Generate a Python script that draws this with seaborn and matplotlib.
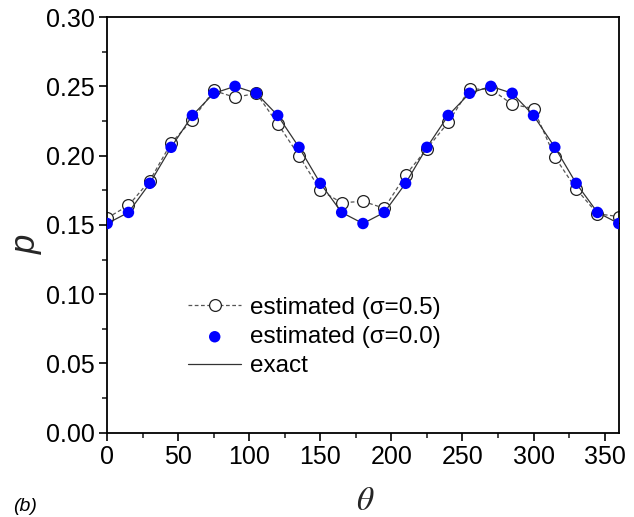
import matplotlib
matplotlib.use("Agg")
import matplotlib.pyplot as plt
from matplotlib.ticker import MultipleLocator
import seaborn as sns
import pandas as pd

theta = [0, 15, 30, 45, 60, 75, 90, 105, 120, 135, 150, 165, 180,
         195, 210, 225, 240, 255, 270, 285, 300, 315, 330, 345, 360]
p_exact = [0.151, 0.159, 0.180, 0.206, 0.229, 0.245, 0.250, 0.245, 0.229, 0.206, 0.180, 0.159, 0.151,
           0.159, 0.180, 0.206, 0.229, 0.245, 0.250, 0.245, 0.229, 0.206, 0.180, 0.159, 0.151]
p_sigma00 = [0.151, 0.159, 0.180, 0.206, 0.229, 0.245, 0.250, 0.245, 0.229, 0.206, 0.180, 0.159, 0.151,
             0.159, 0.180, 0.206, 0.229, 0.245, 0.250, 0.245, 0.229, 0.206, 0.180, 0.159, 0.151]
p_sigma05 = [0.155, 0.164, 0.182, 0.209, 0.226, 0.247, 0.242, 0.245, 0.223, 0.200, 0.175, 0.166, 0.167,
             0.162, 0.186, 0.205, 0.224, 0.248, 0.248, 0.237, 0.234, 0.199, 0.176, 0.158, 0.156]

labels = ["estimated (\u03c3=0.5)", "estimated (\u03c3=0.0)", "exact"]

df = pd.DataFrame({"theta": theta, "exact": p_exact, "s00": p_sigma00, "s05": p_sigma05})

sns.set_style("ticks")
plt.rcParams["font.family"] = ["Liberation Sans", "DejaVu Sans"]
plt.rcParams["mathtext.fontset"] = "stix"
plt.rcParams["text.color"] = "black"

fig = plt.figure(figsize=(6.34, 5.17), dpi=100)
ax = fig.add_axes([0.169, 0.163, 0.807, 0.804])

sns.lineplot(data=df, x="theta", y="s05", ax=ax, color="#555555", linewidth=0.9,
             linestyle=(0, (3, 2)), marker="o", markersize=8.5, markerfacecolor="white",
             markeredgecolor="#222222", markeredgewidth=0.9, label=labels[0], zorder=2)
sns.lineplot(data=df, x="theta", y="exact", ax=ax, color="#333333", linewidth=0.9,
             label=labels[2], zorder=3)
sns.scatterplot(data=df, x="theta", y="s00", ax=ax, color="#0000ff", s=68,
                edgecolor="none", label=labels[1], zorder=4)

ax.set_xlim(0, 360)
ax.set_ylim(0, 0.30)
ax.xaxis.set_major_locator(MultipleLocator(50))
ax.xaxis.set_minor_locator(MultipleLocator(25))
ax.yaxis.set_major_locator(MultipleLocator(0.05))
ax.yaxis.set_minor_locator(MultipleLocator(0.025))
ax.yaxis.set_major_formatter(matplotlib.ticker.FormatStrFormatter("%.2f"))
ax.tick_params(which="major", direction="out", length=6, width=1.2, labelsize=18,
               colors="black", pad=3)
ax.tick_params(which="minor", direction="out", length=3.5, width=1.2)
for s in ax.spines.values():
    s.set_linewidth(1.3)
    s.set_color("black")
    s.set_visible(True)

ax.set_xlabel(r"$\theta$", fontsize=24)
ax.xaxis.set_label_coords(0.504, -0.166, transform=ax.transAxes)
ax.xaxis.label.set_verticalalignment("center")
ax.set_ylabel("p", fontsize=25, style="italic")
ax.yaxis.set_label_coords(-0.158, 0.454, transform=ax.transAxes)
ax.yaxis.label.set_verticalalignment("center")

h, l = ax.get_legend_handles_labels()
order = [l.index(x) for x in labels]
leg = ax.legend([h[i] for i in order], [l[i] for i in order], loc="center left",
                bbox_to_anchor=(0.158, 0.230), frameon=False, fontsize=17.5,
                handlelength=2.2, handletextpad=0.35, labelspacing=0.3, borderpad=0,
                borderaxespad=0)
for t in leg.get_texts():
    t.set_color("black")

fig.text(0.020, 0.012, "(b)", fontsize=14, style="italic")

fig.savefig("out.png", dpi=100)
